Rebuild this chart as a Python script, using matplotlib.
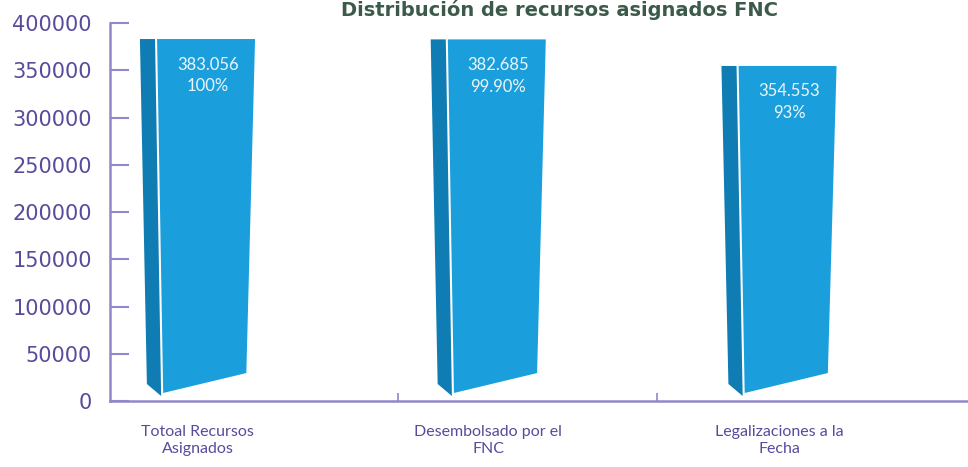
import matplotlib
matplotlib.use("Agg")
import matplotlib.pyplot as plt
from matplotlib.ticker import FixedLocator

# ---- data ----
categories = ["Totoal Recursos\nAsignados", "Desembolsado por el\nFNC", "Legalizaciones a la\nFecha"]
values = [383056, 382685, 354553]
value_labels = ["383.056", "382.685", "354.553"]
pct_labels = ["100%", "99.90%", "93%"]
yticks = [0, 50000, 100000, 150000, 200000, 250000, 300000, 350000, 400000]
title = "Distribución de recursos asignados FNC"

# ---- style ----
front_col = "#1b9fdc"
side_col = "#0f7db4"
axis_col = "#9088c9"
label_col = "#5a4a9c"
title_col = "#3b5a4a"

fig = plt.figure(figsize=(9.68, 4.67), dpi=100)
ax = fig.add_axes([0.1136, 0.1413, 0.8864, 0.8094])

ax.set_ylim(0, 400000)
ax.set_xlim(-0.301, 2.65)

for i, v in enumerate(values):
    c = i
    # darker side face
    ax.fill([c - 0.198, c - 0.146, c - 0.125, c - 0.174],
            [v, v, 5300, 18000], color=side_col, lw=0, zorder=2)
    # front face (slight perspective at the bottom)
    ax.fill([c - 0.139, c + 0.198, c + 0.168, c - 0.118],
            [v, v, 29600, 8500], color=front_col, lw=0, zorder=2)
    ax.text(c + 0.035, v - 27000, value_labels[i], ha="center", va="center",
            color="#eaf6fc", fontsize=12, family="Lato", zorder=3)
    ax.text(c + 0.035, v - 50000, pct_labels[i], ha="center", va="center",
            color="#eaf6fc", fontsize=12, family="Lato", zorder=3)

# axes styling
for s in ["top", "right"]:
    ax.spines[s].set_visible(False)
for s in ["left", "bottom"]:
    ax.spines[s].set_color(axis_col)
    ax.spines[s].set_linewidth(1.8)

ax.set_yticks(yticks)
ax.set_yticklabels([str(t) for t in yticks])
ax.tick_params(axis="y", direction="in", length=14, width=1.5, color=axis_col,
               pad=13, labelsize=15, labelcolor=label_col)
for lab in ax.get_yticklabels():
    lab.set_family("DejaVu Sans")

ax.set_xticks(range(len(categories)))
ax.set_xticklabels(categories)
ax.tick_params(axis="x", which="major", length=0, pad=17, labelsize=11.5,
               labelcolor=label_col)
for lab in ax.get_xticklabels():
    lab.set_family("Lato")
    lab.set_linespacing(1.3)
ax.xaxis.set_minor_locator(FixedLocator([0.69, 1.58]))
ax.tick_params(axis="x", which="minor", direction="in", length=6, width=1.2,
               color=axis_col)

fig.text(0.578, 1 - 16 / 467, title, ha="center", va="baseline",
         fontsize=14, fontweight="bold", color=title_col)

fig.savefig("out.png", dpi=100)
